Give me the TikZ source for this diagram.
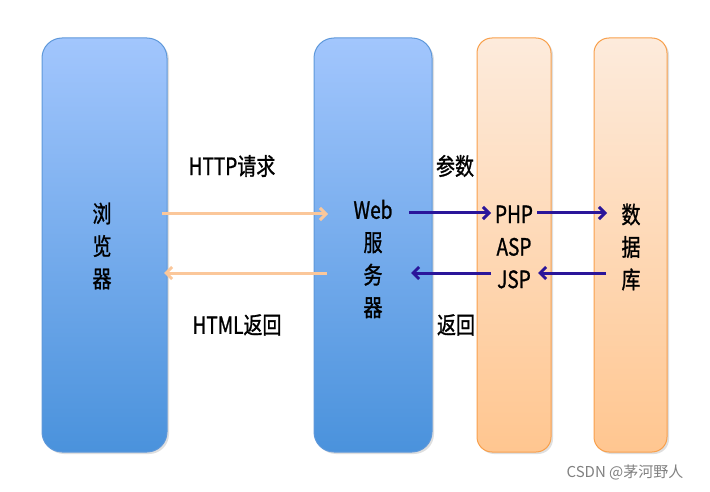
\documentclass[tikz,border=0pt]{standalone}
\usepackage{fontspec}
\usepackage{graphicx}
\setmainfont{Noto Sans CJK SC}[FakeBold=1.2]
\newfontfamily\markfont{Noto Sans CJK SC}
\usetikzlibrary{arrows.meta,shadows}
\definecolor{bluetop}{HTML}{A2C6FD}
\definecolor{bluebot}{HTML}{4A92DC}
\definecolor{blueline}{HTML}{5E98DA}
\definecolor{orangetop}{HTML}{FDEBDC}
\definecolor{orangebot}{HTML}{FFC690}
\definecolor{orangeline}{HTML}{F8A04C}
\definecolor{reqline}{HTML}{FBC79A}
\definecolor{callline}{HTML}{2A159A}
\newcommand\tall[1]{\scalebox{1}[1.25]{#1}}
\tikzstyle{bluebox}=[draw=blueline, line width=1pt, rounded corners=20pt,
  top color=bluetop, bottom color=bluebot,
  drop shadow={shadow xshift=2pt, shadow yshift=-2pt, fill=black!25}]
\tikzstyle{orangebox}=[draw=orangeline, line width=1pt, rounded corners=15pt,
  top color=orangetop, bottom color=orangebot,
  drop shadow={shadow xshift=2pt, shadow yshift=-2pt, fill=black!25}]
\tikzstyle{label}=[font=\fontsize{19}{20}\selectfont, inner sep=0pt]
\tikzstyle{stack}=[label, align=center, font=\fontsize{19}{32.5}\selectfont]
\tikzstyle{req}=[draw=reqline, line width=3pt, -{Straight Barb[length=6pt,width=12pt]}]
\tikzstyle{call}=[draw=callline, line width=3pt, -{Straight Barb[length=6pt,width=12pt]}]
\begin{document}
\begin{tikzpicture}[x=1pt, y=-1pt]
  \useasboundingbox (0,0) rectangle (710,492);
  % the four columns
  \node[bluebox, minimum width=125pt, minimum height=414pt] (browser) at (104.5,245) {};
  \node[bluebox, minimum width=118pt, minimum height=414pt] (web) at (373,245) {};
  \node[orangebox, minimum width=74pt, minimum height=414pt] (script) at (514,245) {};
  \node[orangebox, minimum width=73pt, minimum height=414pt] (db) at (630.5,245) {};
  % texts in the columns
  \node[stack] (browsertxt) at (102,246) {\tall{浏}\\\tall{览}\\\tall{器}};
  \node[stack] (webtxt) at (373,259) {\tall{Web}\\\tall{服}\\\tall{务}\\\tall{器}};
  \node[stack] (scripttxt) at (514,247) {\tall{PHP}\\\tall{ASP}\\\tall{JSP}};
  \node[stack] (dbtxt) at (631,247) {\tall{数}\\\tall{据}\\\tall{库}};
  % labels between the columns
  \node[label] (httpreq) at (232,166) {\tall{HTTP请求}};
  \node[label] (htmlret) at (237,325) {\tall{HTML返回}};
  \node[label] (params) at (455,166) {\tall{参数}};
  \node[label] (ret) at (456,325) {\tall{返回}};
  \node[font=\markfont\fontsize{15}{16}\selectfont, text=black!50, inner sep=0pt] (mark) at (625,472) {CSDN @茅河野人};
  % arrow ends
  \coordinate (a1) at (162,214);
  \coordinate (a2) at (328,214);
  \coordinate (b1) at (327,273);
  \coordinate (b2) at (164,273);
  \coordinate (c1) at (409,213);
  \coordinate (c2) at (491,213);
  \coordinate (d1) at (537,213);
  \coordinate (d2) at (607,213);
  \coordinate (e1) at (606,273);
  \coordinate (e2) at (538,273);
  \coordinate (f1) at (491,273);
  \coordinate (f2) at (411,273);
  \draw[req] (a1) -- (a2);
  \draw[req] (b1) -- (b2);
  \draw[call] (c1) -- (c2);
  \draw[call] (d1) -- (d2);
  \draw[call] (e1) -- (e2);
  \draw[call] (f1) -- (f2);
\end{tikzpicture}
\end{document}
